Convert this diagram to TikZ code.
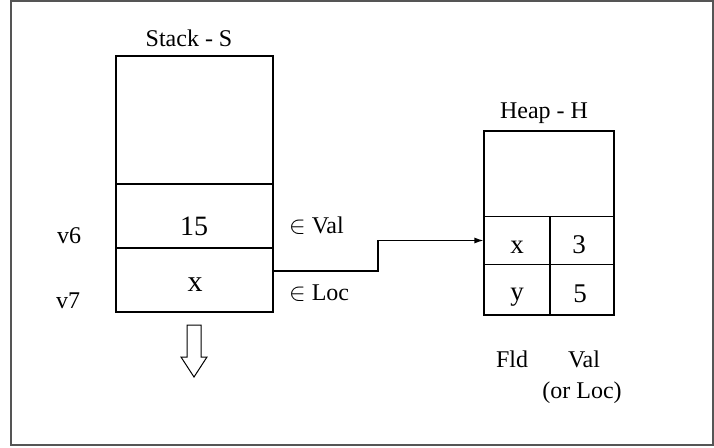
\documentclass[tikz,border=0pt]{standalone}
\usepackage{fontspec}
\setmainfont{Liberation Serif}
\definecolor{marcoGris}{HTML}{555555}
\usetikzlibrary{
	arrows.meta,
	positioning
}
\tikzset{
	celda/.style={draw, rectangle, inner sep=0pt, line width=1.1pt},
	rotulo/.style={font=\fontsize{24}{28}\selectfont, anchor=base, inner sep=0pt},
	grande/.style={font=\fontsize{30}{34}\selectfont, anchor=base, inner sep=0pt},
	flecha/.style={-{Latex[length=9pt,width=6pt]}, line width=1.2pt}
}

\begin{document}
\begin{tikzpicture}[x=1pt, y=-1pt]
		
		\useasboundingbox (0,0) rectangle (714,447);
		\draw[marcoGris, line width=1.5pt] (11,1) rectangle (713,445);
		
		% Pila
		\node[celda, minimum width=157pt, minimum height=128pt] (sTop) at (194.5,120) {};
		\node[celda, minimum width=157pt, minimum height=64pt] (sV6) at (194.5,216) {};
		\node[celda, minimum width=157pt, minimum height=64pt] (sV7) at (194.5,280) {};
		\node[rotulo] (tStack) at (189,46.5) {Stack - S};
		\node[grande, font=\fontsize{28}{32}\selectfont] (t15) at (194,235) {15};
		\node[grande] (tsx) at (195,291.5) {x};
		\node[rotulo] (tv6) at (69,243) {v6};
		\node[rotulo] (tv7) at (68,308) {v7};
		\node[rotulo, anchor=base west] (tVal) at (289,233) {$\in$ Val};
		\node[rotulo, anchor=base west] (tLoc) at (289,300) {$\in$ Loc};
		
		% Flecha hacia abajo
		\draw[line width=1pt] (187,325) -- (201,325) -- (201,357) -- (207,357)
			-- (194,377) -- (181,357) -- (187,357) -- cycle;
		
		% Montículo
		\node[celda, minimum width=130pt, minimum height=85.7pt] (hTop) at (549,173.85) {};
		\foreach \nom/\cx/\cy/\an/\al in {hx/517/240.5/66/47.6, h3/582/240.5/64/47.6,
			hy/517/289.65/66/50.7, h5/582/289.65/64/50.7}{
			\node[celda, minimum width=\an pt, minimum height=\al pt] (\nom) at (\cx,\cy) {};
		}
		\node[rotulo] (tHeap) at (544,118) {Heap - H};
		\node[rotulo, font=\fontsize{27}{30}\selectfont] (thx) at (517,253) {x};
		\node[rotulo, font=\fontsize{27}{30}\selectfont] (th3) at (579,253) {3};
		\node[rotulo, font=\fontsize{27}{30}\selectfont] (thy) at (517,300) {y};
		\node[rotulo, font=\fontsize{27}{30}\selectfont] (th5) at (580,302) {5};
		\node[rotulo] (tFld) at (512,367) {Fld};
		\node[rotulo] (tVal2) at (584,367) {Val};
		\node[rotulo] (tOrLoc) at (582,398) {(or Loc)};
		
		% Referencia
		\coordinate (salida) at (273,271);
		\draw[flecha] (salida) -- ++(105,0) |- (hx.west);
		
	\end{tikzpicture}
\end{document}
